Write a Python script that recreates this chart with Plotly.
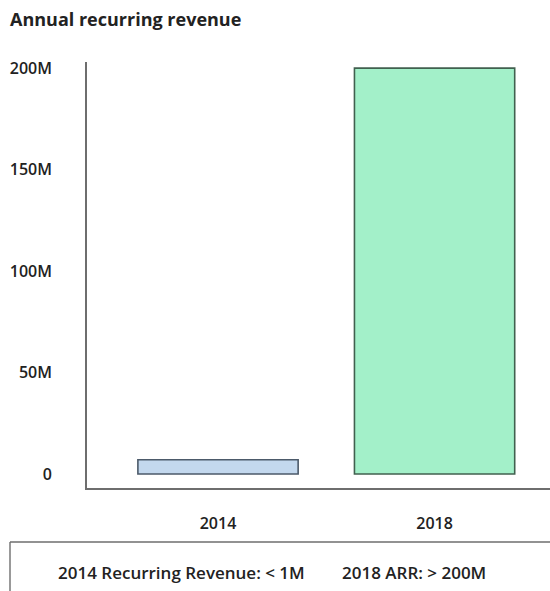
import plotly.graph_objects as go

categories = ["2014", "2018"]
values_musd = [7, 200]
bar_colors = ["#c3d8ee", "#a3f0c9"]
bar_line_colors = ["#4c5a6a", "#41604f"]
y_tick_vals = [0, 50, 100, 150, 200]
y_tick_text = ["0", "50M", "100M", "150M", "200M"]
legend_texts = ["2014 Recurring Revenue: < 1M", "2018 ARR: > 200M"]
title_text = "Annual recurring revenue"

FONT = "Open Sans"
AXIS_COLOR = "#6e6e6e"

fig = go.Figure()
fig.add_trace(go.Bar(
    x=[0, 1],
    y=values_musd,
    width=0.74,
    marker=dict(color=bar_colors, line=dict(color=bar_line_colors, width=1.6)),
    hoverinfo="skip",
    showlegend=False,
))

fig.update_layout(
    width=550, height=591,
    margin=dict(l=87, r=0, t=62, b=103, autoexpand=False),
    paper_bgcolor="white", plot_bgcolor="white",
    showlegend=False,
    font=dict(family=FONT, color="#222"),
    xaxis=dict(
        range=[-0.605, 1.533],
        tickvals=[0, 1], ticktext=categories,
        showline=True, linecolor=AXIS_COLOR, linewidth=1.6,
        showgrid=False, zeroline=False, ticks="",
        ticklabelstandoff=20, automargin=False,
        tickfont=dict(family=FONT, size=16, weight=600, color="#222"),
    ),
    yaxis=dict(
        range=[-6.9, 203],
        tickvals=y_tick_vals, ticktext=y_tick_text,
        showline=True, linecolor=AXIS_COLOR, linewidth=1.6,
        showgrid=False, zeroline=False, ticks="",
        ticklabelstandoff=30, automargin=False,
        tickfont=dict(family=FONT, size=16, weight=600, color="#222"),
    ),
    title=dict(
        text=title_text, x=10 / 550, xref="container", xanchor="left",
        y=1 - 20 / 591, yref="container", yanchor="middle",
        font=dict(family=FONT, size=18, weight=700, color="#222"),
    ),
)

# legend box (hand-drawn style frame)
fig.add_shape(type="line", xref="paper", yref="paper",
              x0=-77 / 463, x1=1.0, y0=-54 / 426, y1=-54 / 426,
              line=dict(color=AXIS_COLOR, width=1.4))
fig.add_shape(type="line", xref="paper", yref="paper",
              x0=-77 / 463, x1=-77 / 463, y0=-54 / 426, y1=-110 / 426,
              line=dict(color=AXIS_COLOR, width=1.4))

for txt, xc in zip(legend_texts, [56, 340]):
    fig.add_annotation(
        text=txt, xref="paper", yref="paper",
        x=(xc - 87) / 463, y=-(572 - 488) / 426,
        xanchor="left", yanchor="middle", showarrow=False,
        font=dict(family=FONT, size=17, weight=600, color="#222"),
    )

fig.write_html(
    "out.html",
    config={"displayModeBar": False},
    post_script="document.body.style.margin='0';document.body.style.overflow='hidden';",
)
